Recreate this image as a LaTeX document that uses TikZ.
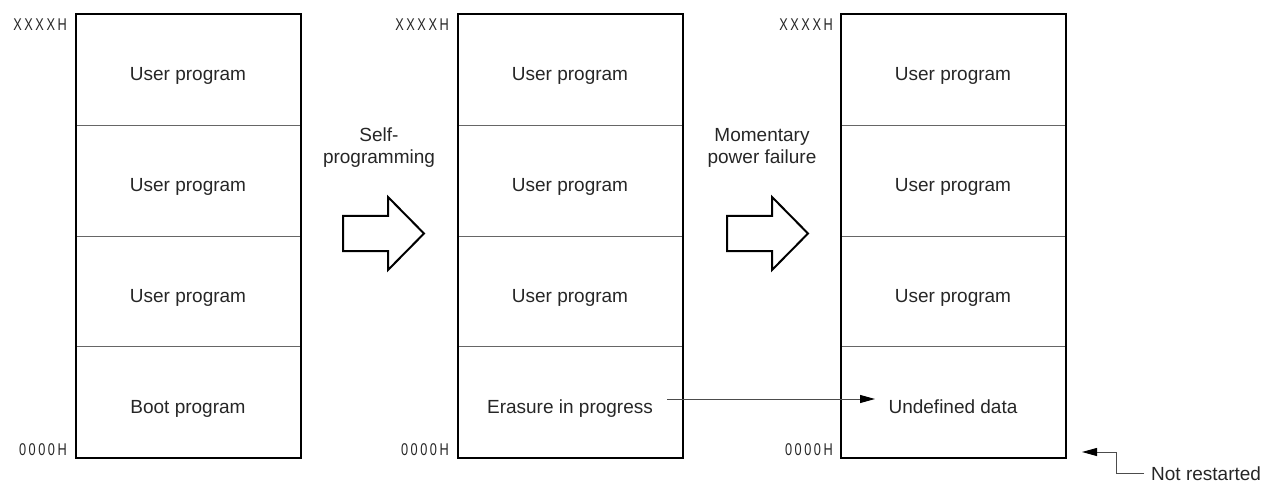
\documentclass[tikz,border=0pt]{standalone}
\usepackage{fontspec}
\setmainfont{Liberation Sans}
\newfontfamily\addrfont[FakeStretch=0.75,LetterSpace=15]{Liberation Sans}
\usetikzlibrary{arrows.meta}
\begin{document}
\begin{tikzpicture}[x=1pt,y=-1pt,
  cell/.style={draw=black!60, line width=0.8pt, minimum width=224pt, minimum height=110.75pt, inner sep=0pt, anchor=north west},
  outer/.style={draw=black, line width=2pt},
  lbl/.style={font=\fontsize{19}{22}\selectfont, text=black!85, anchor=base, inner sep=0pt},
  addr/.style={font=\addrfont\fontsize{17}{20}\selectfont, text=black!85, anchor=east, inner sep=0pt},
  hollow/.style={draw=black, line width=2pt, fill=white, line join=miter},
  conn/.style={draw=black!70, line width=1pt, -{Triangle[length=15pt,width=8pt,fill=black,color=black]}}]
\useasboundingbox (0,0) rectangle (1262,484);
% ---------- cells ----------
\foreach \r/\y in {1/14,2/124.75,3/235.5,4/346.25}{
  \node[cell] (a\r) at (76,\y) {};
  \node[cell] (b\r) at (458,\y) {};
  \node[cell] (c\r) at (841,\y) {};
}
\draw[outer] (a1.north west) rectangle (a4.south east);
\draw[outer] (b1.north west) rectangle (b4.south east);
\draw[outer] (c1.north west) rectangle (c4.south east);
% texts
\node[lbl] (ta1) at (188,81) {User program};
\node[lbl] (ta2) at (188,191.75) {User program};
\node[lbl] (ta3) at (188,302.5) {User program};
\node[lbl] (ta4) at (188,413.75) {Boot program};
\node[lbl] (tb1) at (570,81) {User program};
\node[lbl] (tb2) at (570,191.75) {User program};
\node[lbl] (tb3) at (570,302.5) {User program};
\node[lbl] (tb4) at (570,413.75) {Erasure in progress};
\node[lbl] (tc1) at (953,81) {User program};
\node[lbl] (tc2) at (953,191.75) {User program};
\node[lbl] (tc3) at (953,302.5) {User program};
\node[lbl] (tc4) at (953,413.75) {Undefined data};
% addresses
\node[addr] (xa) at (67,25) {XXXXH};
\node[addr] (za) at (67,450) {0000H};
\node[addr] (xb) at (449,25) {XXXXH};
\node[addr] (zb) at (449,450) {0000H};
\node[addr] (xc) at (833,25) {XXXXH};
\node[addr] (zc) at (833,450) {0000H};
% hollow arrows
\draw[hollow] (343,216) -- (388,216) -- (388,197) -- (424,233.5) -- (388,270) -- (388,251) -- (343,251) -- cycle;
\draw[hollow] (727,216) -- (772,216) -- (772,197) -- (808,233.5) -- (772,270) -- (772,251) -- (727,251) -- cycle;
% arrow labels
\node[lbl] (sp1) at (379,142) {Self-};
\node[lbl] (sp2) at (379,164) {programming};
\node[lbl] (mp1) at (762,142) {Momentary};
\node[lbl] (mp2) at (762,164) {power failure};
% erasure connector
\coordinate (e1) at (667,399);
\coordinate (e2) at (875,399);
\draw[conn] (e1) -- (e2);
% not restarted
\node[lbl, anchor=base west] (nr) at (1151,480) {Not restarted};
\coordinate (n1) at (1144,473);
\coordinate (n2) at (1082,452);
\draw[conn] (n1) -- (1116,473) -- (1116,452) -- (n2);
\end{tikzpicture}
\end{document}
